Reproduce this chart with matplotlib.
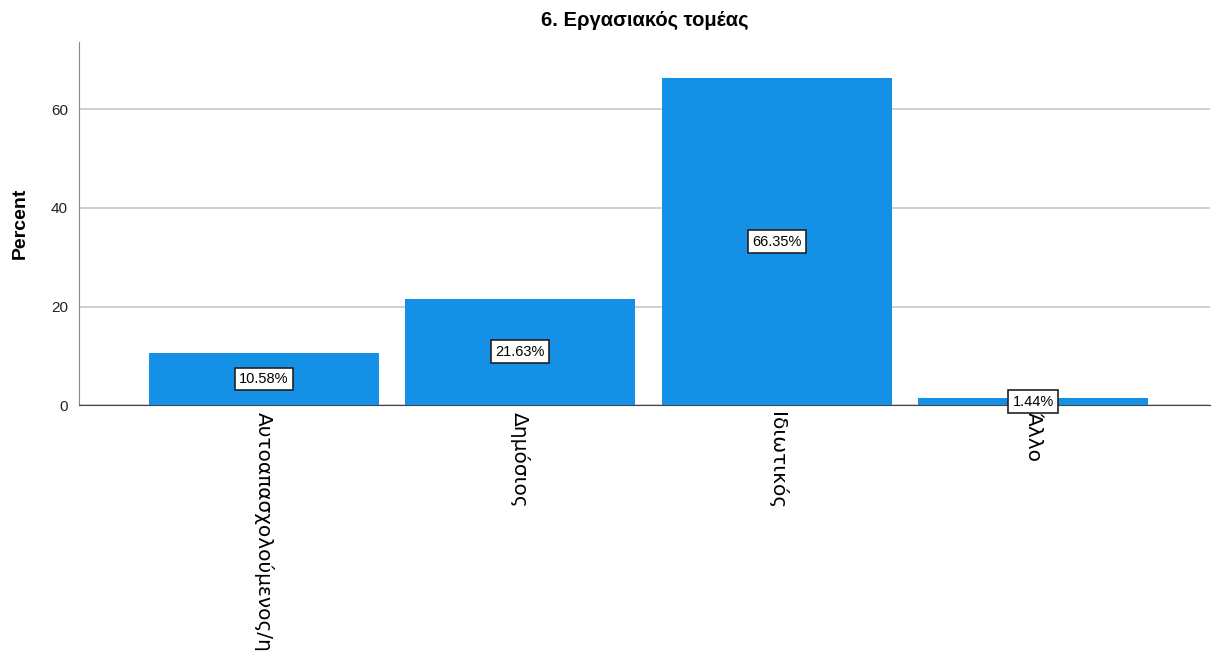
import matplotlib.pyplot as plt

# values
categories = ['Αυτοαπασχολούμενος/η', 'Δημόσιος', 'Ιδιωτικός', 'Άλλο']
percents = [10.58, 21.63, 66.35, 1.44]
y_ticks = [0, 20, 40, 60]

bar_color = '#1490e6'

plt.rcParams['font.family'] = ['Liberation Sans', 'DejaVu Sans']

fig = plt.figure(figsize=(12.21, 6.61), dpi=100)
ax = fig.add_axes([0.0647, 0.387, 0.9263, 0.549])

x = list(range(len(categories)))
ax.bar(x, percents, width=0.897, color=bar_color, zorder=3)

# value labels in white boxes, at half bar height
for xi, p in zip(x, percents):
    ax.text(xi, p / 2, f'{p:.2f}%', ha='center', va='center', fontsize=10.5, zorder=4,
            bbox=dict(boxstyle='square,pad=0.3', facecolor='white', edgecolor='#222222', linewidth=1.2))

ax.set_xlim(-0.72, 3.69)
ax.set_ylim(0, 73.6)
ax.set_yticks(y_ticks)
ax.yaxis.grid(True, color='#c8c8c8', linewidth=1.2, zorder=0)
ax.set_axisbelow(True)

ax.set_xticks(x)
ax.set_xticklabels(categories, rotation=-90, fontsize=14.5, family=['DejaVu Sans'], va='top')
ax.tick_params(axis='x', length=0, pad=5)
ax.tick_params(axis='y', length=0, pad=8, labelsize=11, colors='#222222')

for s in ['top', 'right']:
    ax.spines[s].set_visible(False)
ax.spines['left'].set_color('#888888')
ax.spines['bottom'].set_color('#444444')

ax.set_ylabel('Percent', fontsize=14, fontweight='bold', labelpad=16)
ax.set_title('6. Εργασιακός τομέας', fontsize=14.5, fontweight='bold', pad=12)

fig.savefig('out.png', dpi=100)
